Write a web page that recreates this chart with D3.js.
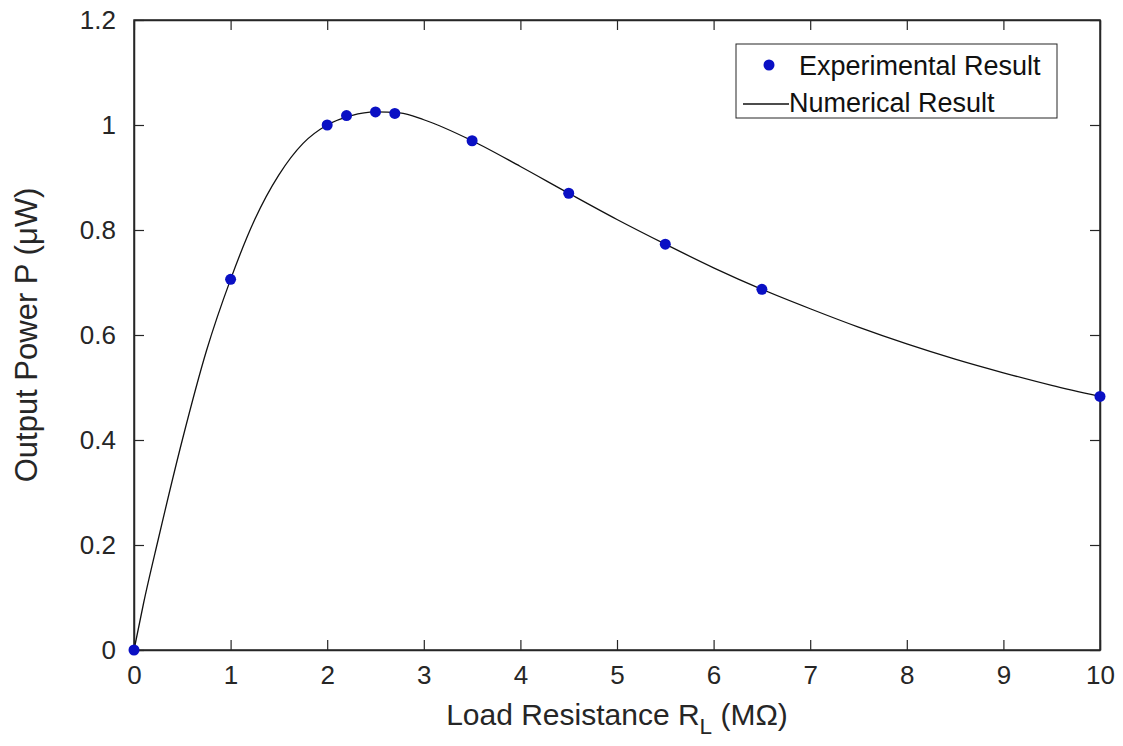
<!DOCTYPE html>
<html>
<head>
<meta charset="utf-8">
<script src="https://cdn.jsdelivr.net/npm/d3@7"></script>
<style>
  body { margin: 0; background: #fff; }
  svg { display: block; font-family: Arial, "Liberation Sans", Helvetica, sans-serif; }
</style>
</head>
<body>
<svg id="chart" width="1123" height="746"></svg>
<script>
// ---- data ----
const expX = [0, 1, 2, 2.2, 2.5, 2.7, 3.5, 4.5, 5.5, 6.5, 10];
const expY = [0, 0.706, 1.0, 1.018, 1.025, 1.022, 0.970, 0.870, 0.773, 0.687, 0.483];

const numX = [0, 0.1, 0.25, 0.5, 0.75, 1, 1.25, 1.5, 1.75, 2, 2.25, 2.5, 2.75, 3, 3.5, 4, 4.5, 5, 5.5, 6, 6.5, 7, 7.5, 8, 8.5, 9, 9.5, 10];
const numY = [0, 0.09, 0.21, 0.40, 0.57, 0.706, 0.82, 0.905, 0.965, 1.0, 1.018, 1.025, 1.023, 1.01, 0.970, 0.921, 0.870, 0.820, 0.773, 0.728, 0.687, 0.650, 0.615, 0.583, 0.554, 0.528, 0.504, 0.483];

const xTicks = [0, 1, 2, 3, 4, 5, 6, 7, 8, 9, 10];
const yTicks = [0, 0.2, 0.4, 0.6, 0.8, 1, 1.2];

const xLabel = "Load Resistance R";
const xLabelSub = "L";
const xLabelTail = " (MΩ)";
const yLabel = "Output Power P (μW)";
const legendLabels = ["Experimental Result", "Numerical Result"];

// ---- layout ----
const svg = d3.select("#chart");
const pLeft = 134, pRight = 1100, pTop = 20, pBottom = 650;
const axisColor = "#262626";
const tickFont = 26, labelFont = 30, legendFont = 27;

const x = d3.scaleLinear().domain([0, 10]).range([pLeft, pRight]);
const y = d3.scaleLinear().domain([0, 1.2]).range([pBottom, pTop]);

// box
svg.append("rect")
  .attr("x", pLeft).attr("y", pTop)
  .attr("width", pRight - pLeft).attr("height", pBottom - pTop)
  .attr("fill", "none").attr("stroke", axisColor).attr("stroke-width", 1.5);

const fmt = d => String(d);

const gx = svg.append("g").attr("transform", `translate(0,${pBottom})`)
  .call(d3.axisBottom(x).tickValues(xTicks).tickFormat(fmt).tickSizeInner(-10).tickSizeOuter(0).tickPadding(16));
const gxt = svg.append("g").attr("transform", `translate(0,${pTop})`)
  .call(d3.axisTop(x).tickValues(xTicks).tickFormat("").tickSizeInner(-10).tickSizeOuter(0));
const gy = svg.append("g").attr("transform", `translate(${pLeft},0)`)
  .call(d3.axisLeft(y).tickValues(yTicks).tickFormat(fmt).tickSizeInner(-10).tickSizeOuter(0).tickPadding(18));
const gyr = svg.append("g").attr("transform", `translate(${pRight},0)`)
  .call(d3.axisRight(y).tickValues(yTicks).tickFormat("").tickSizeInner(-10).tickSizeOuter(0));

[gx, gxt, gy, gyr].forEach(g => {
  g.select(".domain").attr("stroke", axisColor).attr("stroke-width", 1.5);
  g.selectAll(".tick line").attr("stroke", axisColor).attr("stroke-width", 1.2);
  g.selectAll(".tick text").attr("fill", axisColor).attr("font-size", tickFont)
    .attr("font-family", "Arial, 'Liberation Sans', sans-serif");
});

// numerical curve
const line = d3.line().x(d => x(d[0])).y(d => y(d[1])).curve(d3.curveMonotoneX);
svg.append("path")
  .datum(numX.map((v, i) => [v, numY[i]]))
  .attr("d", line)
  .attr("fill", "none").attr("stroke", "#111").attr("stroke-width", 1.3);

// experimental points
const markerColor = "#0a10c4";
svg.append("g").selectAll("circle")
  .data(expX.map((v, i) => [v, expY[i]]))
  .join("circle")
  .attr("cx", d => x(d[0])).attr("cy", d => y(d[1]))
  .attr("r", 5.5).attr("fill", markerColor);

// x label
const xl = svg.append("text")
  .attr("x", (pLeft + pRight) / 2).attr("y", 725)
  .attr("text-anchor", "middle").attr("font-size", labelFont).attr("fill", axisColor);
xl.append("tspan").text(xLabel);
xl.append("tspan").attr("dy", 9).attr("font-size", labelFont * 0.75).text(xLabelSub);
xl.append("tspan").attr("dy", -9).text(xLabelTail);

// y label
svg.append("text")
  .attr("transform", `translate(37,${(pTop + pBottom) / 2}) rotate(-90)`)
  .attr("text-anchor", "middle").attr("font-size", labelFont + 1).attr("fill", axisColor)
  .text(yLabel);

// legend
const lg = svg.append("g");
lg.append("rect").attr("x", 736).attr("y", 44).attr("width", 321).attr("height", 74)
  .attr("fill", "#fff").attr("stroke", axisColor).attr("stroke-width", 1);
lg.append("circle").attr("cx", 769).attr("cy", 65).attr("r", 5.5).attr("fill", markerColor);
lg.append("text").attr("x", 799).attr("y", 75).attr("font-size", legendFont).attr("fill", "#111").text(legendLabels[0]);
lg.append("line").attr("x1", 743).attr("x2", 789).attr("y1", 104).attr("y2", 104)
  .attr("stroke", "#111").attr("stroke-width", 1.3);
lg.append("text").attr("x", 789).attr("y", 112).attr("font-size", legendFont).attr("fill", "#111").text(legendLabels[1]);
</script>
</body>
</html>
